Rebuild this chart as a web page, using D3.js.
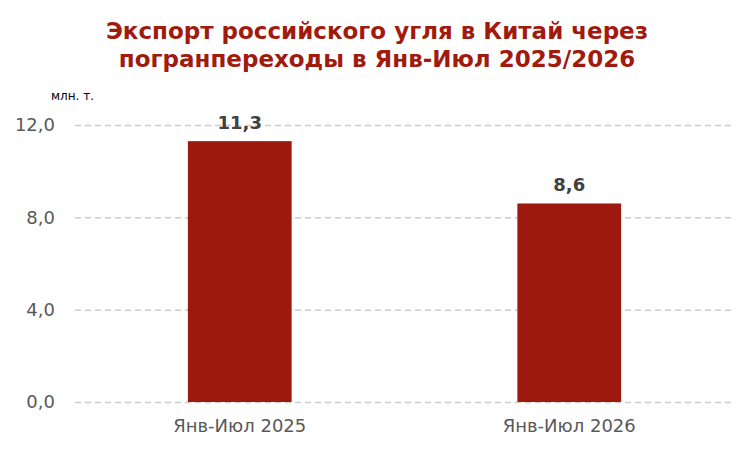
<!DOCTYPE html>
<html>
<head>
  <meta charset="utf-8">
  <title>Экспорт российского угля в Китай</title>
  <style>
    body { margin: 0; background: #fff; }
    svg text { font-family: "DejaVu Sans", Verdana, sans-serif; }
  </style>
</head>
<body>
  <svg id="chart"></svg>

  <script src="https://d3js.org/d3.v7.min.js"></script>
  <script>
    // Данные
    const categories = ["Янв-Июл 2025", "Янв-Июл 2026"];
    const values = [11.3, 8.6];
    const yTicks = [0, 4, 8, 12];
    const titleLines = ["Экспорт российского угля в Китай через", "погранпереходы в Янв-Июл 2025/2026"];

    const width = 754;
    const height = 451;
    const margin = { top: 125, right: 20, bottom: 49, left: 75 };

    const svg = d3.select("#chart")
      .attr("width", width)
      .attr("height", height);

    const fmt = v => d3.format(".1f")(v).replace(".", ",");

    const x = d3.scaleBand()
      .domain(categories)
      .range([margin.left, width - margin.right])
      .padding(0);

    const y = d3.scaleLinear()
      .domain([0, 12])
      .range([height - margin.bottom, margin.top]);

    const barW = x.bandwidth() * 0.315;

    // Заголовок
    svg.append("g").selectAll("text")
      .data(titleLines)
      .enter().append("text")
      .attr("x", width / 2)
      .attr("y", (d, i) => 39 + i * 28)
      .attr("text-anchor", "middle")
      .attr("font-size", 23)
      .attr("font-weight", "bold")
      .attr("fill", "#a11a0e")
      .text(d => d);

    // Подпись оси
    svg.append("text")
      .attr("x", 51)
      .attr("y", 100)
      .attr("font-size", 12)
      .attr("fill", "#000")
      .text("млн. т.");

    // Сетка и подписи оси Y
    const yAxis = d3.axisLeft(y)
      .tickValues(yTicks)
      .tickSize(-(width - margin.left - margin.right))
      .tickPadding(20)
      .tickFormat(fmt);

    const gy = svg.append("g")
      .attr("transform", `translate(${margin.left},0)`)
      .call(yAxis);

    gy.select(".domain").remove();
    gy.selectAll(".tick line")
      .attr("stroke", "#cccccc")
      .attr("stroke-width", 1.5)
      .attr("stroke-dasharray", "6,4");
    gy.selectAll(".tick text")
      .attr("font-size", 18)
      .attr("fill", "#595959")
      .style("font-family", "\"DejaVu Sans\", Verdana, sans-serif");

    // Столбцы
    svg.append("g").selectAll("rect")
      .data(values)
      .enter().append("rect")
      .attr("x", (d, i) => x(categories[i]) + x.bandwidth() / 2 - barW / 2)
      .attr("y", d => y(d))
      .attr("width", barW)
      .attr("height", d => y(0) - y(d))
      .attr("fill", "#9e190d");

    // Значения
    svg.append("g").selectAll("text")
      .data(values)
      .enter().append("text")
      .attr("x", (d, i) => x(categories[i]) + x.bandwidth() / 2)
      .attr("y", d => y(d) - 12)
      .attr("text-anchor", "middle")
      .attr("font-size", 18)
      .attr("font-weight", "bold")
      .attr("fill", "#404040")
      .text(d => fmt(d));

    // Подписи категорий
    const xAxis = d3.axisBottom(x).tickSize(0).tickPadding(17);
    const gx = svg.append("g")
      .attr("transform", `translate(0,${height - margin.bottom})`)
      .call(xAxis);
    gx.select(".domain").remove();
    gx.selectAll(".tick text")
      .attr("font-size", 18)
      .attr("fill", "#595959")
      .style("font-family", "\"DejaVu Sans\", Verdana, sans-serif");
  </script>
</body>
</html>
